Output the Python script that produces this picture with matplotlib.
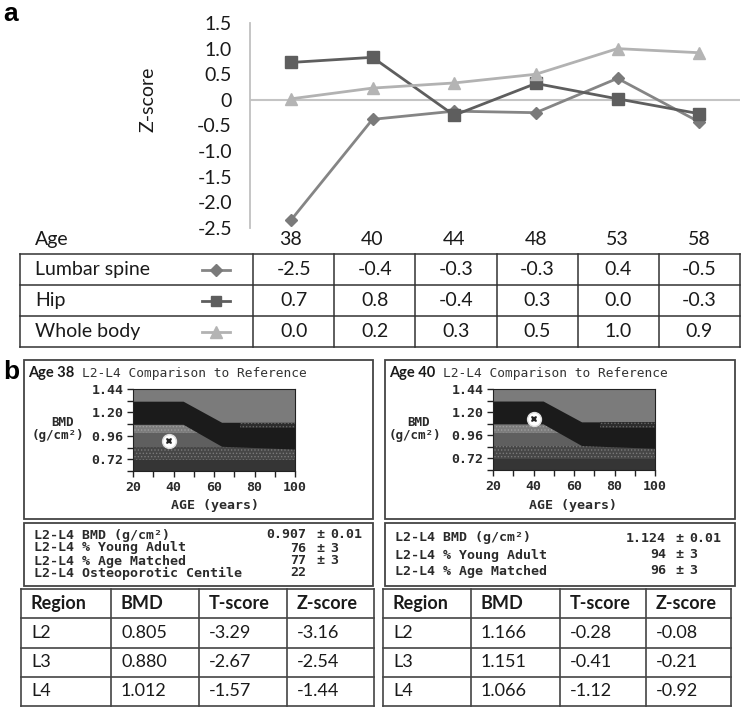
import matplotlib
matplotlib.use("Agg")
import matplotlib.pyplot as plt
from matplotlib.patches import Rectangle

W, H = 742, 709

# ---- panel a: Z-scores by age
ages = ["38", "40", "44", "48", "53", "58"]
series = ["Lumbar spine", "Hip", "Whole body"]
lumbar = [-2.35, -0.38, -0.22, -0.25, 0.42, -0.43]
hip = [0.73, 0.83, -0.30, 0.32, 0.02, -0.27]
whole = [0.02, 0.23, 0.33, 0.50, 1.00, 0.92]
lumbar_tab = ["-2.5", "-0.4", "-0.3", "-0.3", "0.4", "-0.5"]
hip_tab = ["0.7", "0.8", "-0.4", "0.3", "0.0", "-0.3"]
whole_tab = ["0.0", "0.2", "0.3", "0.5", "1.0", "0.9"]
zticks = [1.5, 1.0, 0.5, 0, -0.5, -1.0, -1.5, -2.0, -2.5]
zlabels = ["1.5", "1.0", "0.5", "0", "-0.5", "-1.0", "-1.5", "-2.0", "-2.5"]

# ---- panel b: densitometry reference curves
ref_age = [20, 45, 64, 100]
ref_hi = [1.31, 1.31, 1.094, 1.094]
ref_lo = [1.073, 1.073, 0.848, 0.82]
zone_edges = [1.44, 1.073, 0.985, 0.848, 0.71, 0.60]
strip_age = [73, 100]
strip_hi = [1.094, 1.094]
strip_lo = [1.04, 1.04]

scan_age = [38, 40]
scan_bmd = [0.907, 1.124]

info_labels = ["L2-L4 BMD (g/cm\u00b2)", "L2-L4 % Young Adult",
               "L2-L4 % Age Matched", "L2-L4 Osteoporotic Centile"]
info_val = [["0.907", "76", "77", "22"], ["1.124", "94", "96"]]
info_sd = [["0.01", "3", "3", ""], ["0.01", "3", "3"]]

tab_head = ["Region", "BMD", "T-score", "Z-score"]
regions = ["L2", "L3", "L4"]
bmd_38 = ["0.805", "0.880", "1.012"]
t_38 = ["-3.29", "-2.67", "-1.57"]
z_38 = ["-3.16", "-2.54", "-1.44"]
bmd_40 = ["1.166", "1.151", "1.066"]
t_40 = ["-0.28", "-0.41", "-1.12"]
z_40 = ["-0.08", "-0.21", "-0.92"]

plt.rcParams['hatch.linewidth'] = 0.6
SANS = "Lato"
MONO = "DejaVu Sans Mono"
TXT = "#1a1a1a"
SCR = "#2a2a2a"

fig = plt.figure(figsize=(W / 100, H / 100), dpi=100)
ov = fig.add_axes([0, 0, 1, 1], zorder=5)
ov.set_xlim(0, W)
ov.set_ylim(H, 0)
ov.axis('off')

# ---------------- panel a chart
ax = fig.add_axes([250 / W, 1 - 228 / H, 490 / W, 205 / H])
ax.set_xlim(-0.5, 5.5)
ax.set_ylim(-2.5, 1.5)
for s in ["top", "right", "bottom"]:
    ax.spines[s].set_visible(False)
ax.spines["left"].set_color("#c0c0c0")
ax.spines["left"].set_linewidth(1.3)
ax.axhline(0, color="#c4c4c4", lw=1.5, zorder=1)
ax.set_yticks(zticks)
ax.set_yticklabels(zlabels, fontsize=14, family=SANS, color=TXT)
ax.tick_params(axis="y", length=0, pad=13)
ax.set_xticks(range(len(ages)))
ax.set_xticklabels(ages, fontsize=14, family=SANS, color=TXT)
ax.tick_params(axis="x", length=0, pad=2)
ax.set_ylabel("Z-score", fontsize=14, family=SANS, color=TXT)
ax.yaxis.set_label_coords(-0.19, 0.63)
ax.patch.set_alpha(0)

styles = [
    dict(color="#858585", marker="D", ms=6.5, mfc="#7a7a7a", mec="#7a7a7a"),
    dict(color="#5e5e5e", marker="s", ms=8, mfc="#5e5e5e", mec="#5e5e5e"),
    dict(color="#b2b2b2", marker="^", ms=9, mfc="#b4b4b4", mec="#b4b4b4"),
]
for vals, st in zip([lumbar, hip, whole], styles):
    ax.plot(range(len(ages)), vals, lw=2, clip_on=False, zorder=3, **st)

ov.text(3, 14, "a", fontsize=19, fontweight="bold", family="Liberation Sans", va="center")

# ---------------- panel a table
ov.text(35, 240, "Age", fontsize=14, family=SANS, color=TXT, va="center")
tx0, tx1, tlab = 20, 740, 253
ty = [254, 285, 316, 347]
colw = (tx1 - tlab) / len(ages)
for y in ty:
    ov.plot([tx0, tx1], [y, y], color="#333333", lw=1.1)
for xb in [tx0, tlab] + [tlab + colw * (i + 1) for i in range(len(ages))]:
    ov.plot([xb, xb], [ty[0], ty[-1]], color="#333333", lw=1.1)
for r, (name, tab, st) in enumerate(zip(series, [lumbar_tab, hip_tab, whole_tab], styles)):
    yc = (ty[r] + ty[r + 1]) / 2
    ov.text(35, yc, name, fontsize=14, family=SANS, color=TXT, va="center")
    ov.plot([202, 230], [yc, yc], lw=2, color=st["color"])
    ov.plot([216], [yc], marker=st["marker"], ms=st["ms"] * 0.9, color=st["mfc"], ls="none")
    for i, v in enumerate(tab):
        ov.text(tlab + colw * (i + 0.5), yc, v, fontsize=14, family=SANS, color=TXT,
                ha="center", va="center")

# ---------------- panel b
ov.text(3, 372, "b", fontsize=19, fontweight="bold", family="Liberation Sans", va="center")

zone_colors = ["#7b7b7b", "#7c7c7c", "#5f5f5f", "#464646", "#353535"]
zone_dots = ["#7b7b7b", "#9e9e9e", "#5f5f5f", "#7a7a7a", "#353535"]
zone_hatch = [None, ".....", None, ".....", None]


def scan(left, top, right, bottom, age, bmd):
    dax = fig.add_axes([left / W, 1 - bottom / H, (right - left) / W, (bottom - top) / H])
    dax.set_xlim(20, 100)
    dax.set_ylim(0.60, 1.44)
    for i in range(len(zone_colors)):
        dax.fill_between([20, 100], zone_edges[i + 1], zone_edges[i], facecolor=zone_colors[i],
                         edgecolor=zone_dots[i], hatch=zone_hatch[i], linewidth=0)
    dax.fill_between(ref_age, ref_lo, ref_hi, facecolor="#1b1b1b", linewidth=0)
    dax.fill_between(strip_age, strip_lo, strip_hi, facecolor="#2c2c2c", edgecolor="#666666",
                     hatch=".....", linewidth=0)
    dax.plot([age], [bmd], "o", ms=10, mfc="white", mec="#dddddd", mew=1)
    dax.plot([age], [bmd], "X", ms=4.5, color="#222222", mew=0)
    dax.set_xticks([20, 40, 60, 80, 100])
    dax.set_xticks([30, 50, 70, 90], minor=True)
    dax.set_yticks([0.72, 0.96, 1.20, 1.44])
    dax.set_yticks([0.60, 0.84, 1.08, 1.32], minor=True)
    dax.set_xticklabels(["20", "40", "60", "80", "100"])
    dax.set_yticklabels(["0.72", "0.96", "1.20", "1.44"])
    dax.tick_params(which="both", direction="out", length=4, width=1, color="#222222")
    dax.tick_params(labelsize=9.5, labelcolor=SCR, pad=3)
    for lab in dax.get_xticklabels() + dax.get_yticklabels():
        lab.set_family(MONO)
        lab.set_fontweight("bold")
    for s in dax.spines.values():
        s.set_color("#222222")
        s.set_linewidth(0.8)
    return dax


panels = [
    dict(x0=24, x1=373, chart=(133, 389, 295, 471), bmdx=62, agex=215, title="Age 38",
         tabx=[21, 111, 199, 287, 374], vals=(bmd_38, t_38, z_38),
         info_y=[535, 548, 561, 573], vx=(306, 320, 330)),
    dict(x0=385, x1=735, chart=(493, 389, 655, 470), bmdx=419, agex=573, title="Age 40",
         tabx=[383, 471, 560, 646, 731], vals=(bmd_40, t_40, z_40),
         info_y=[538, 555, 571], vx=(666, 679, 689)),
]

for k, p in enumerate(panels):
    x0, x1 = p["x0"], p["x1"]
    ov.add_patch(Rectangle((x0, 360), x1 - x0, 159, fill=False, ec="#444444", lw=1.3))
    ov.add_patch(Rectangle((x0, 523), x1 - x0, 63, fill=False, ec="#444444", lw=1.3))
    l, t, r, b = p["chart"]
    scan(l, t, r, b, scan_age[k], scan_bmd[k])
    ov.text(x0 + 4, 373, p["title"], fontsize=10.5, fontweight="bold", family=SANS,
            color=TXT, va="center")
    ov.text(x0 + 58, 373, "L2-L4 Comparison to Reference", fontsize=9.3, family=MONO,
            color="#333333", va="center")
    ov.text(p["bmdx"], 423, "BMD", fontsize=9, family=MONO, fontweight="bold",
            color=SCR, ha="center", va="center")
    ov.text(p["bmdx"] - 4, 436, "(g/cm\u00b2)", fontsize=9, family=MONO, fontweight="bold",
            color=SCR, ha="center", va="center")
    ov.text(p["agex"], 505, "AGE (years)", fontsize=9.5, family=MONO, fontweight="bold",
            color=SCR, ha="center", va="center")
    vr, pm, sl = p["vx"]
    for i, y in enumerate(p["info_y"]):
        ov.text(x0 + 10, y, info_labels[i], fontsize=9.5, family=MONO, fontweight="bold",
                color=SCR, va="center")
        ov.text(vr, y, info_val[k][i], fontsize=9.5, family=MONO, fontweight="bold",
                color=SCR, va="center", ha="right")
        if info_sd[k][i]:
            ov.text(pm, y, "\u00b1", fontsize=9.5, family=MONO, fontweight="bold",
                    color=SCR, va="center", ha="center")
            ov.text(sl, y, info_sd[k][i], fontsize=9.5, family=MONO, fontweight="bold",
                    color=SCR, va="center")

    # results table
    tx = p["tabx"]
    rows = [589 + 29.25 * i for i in range(5)]
    for y in rows:
        ov.plot([tx[0], tx[-1]], [y, y], color="#444444", lw=1.2)
    for xb in tx:
        ov.plot([xb, xb], [rows[0], rows[-1]], color="#444444", lw=1.2)
    for c, h in enumerate(tab_head):
        ov.text(tx[c] + 10, (rows[0] + rows[1]) / 2, h, fontsize=13, fontweight="bold",
                family=SANS, color=TXT, va="center")
    bm, ts, zs = p["vals"]
    for r in range(len(regions)):
        yc = (rows[r + 1] + rows[r + 2]) / 2
        for c, v in enumerate([regions[r], bm[r], ts[r], zs[r]]):
            ov.text(tx[c] + 10, yc, v, fontsize=13, family=SANS, color=TXT, va="center")

fig.savefig("out.png", dpi=100)
